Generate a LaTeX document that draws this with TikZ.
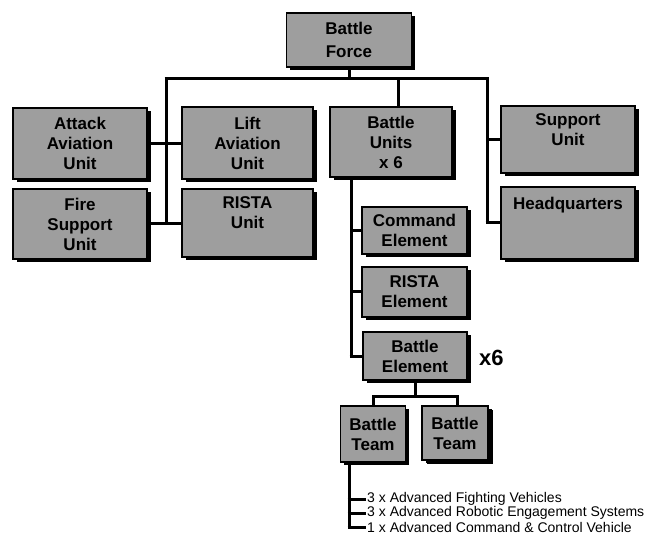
\documentclass[tikz,border=0pt]{standalone}
\usepackage{fontspec}
\setmainfont{Liberation Sans}
\usetikzlibrary{shadows}
\definecolor{boxgray}{gray}{0.62}
\tikzset{
  unitbox/.style={draw=black, line width=1.6pt, fill=boxgray, inner sep=0pt, align=center,
    font=\bfseries\fontsize{17}{20}\selectfont,
    drop shadow={shadow xshift=3.5pt, shadow yshift=-3pt, fill=black, opacity=1}},
  link/.style={line width=3pt},
  item/.style={anchor=west, inner sep=0pt, font=\fontsize{14}{16}\selectfont},
}
\begin{document}
\begin{tikzpicture}[x=1pt,y=-1pt]
\useasboundingbox[fill=white] (0,0) rectangle (650,534);
% boxes
\node[unitbox, minimum width=125pt, minimum height=54pt] (bf) at (349,40) {Battle\\[3pt]Force};
\node[unitbox, minimum width=134pt, minimum height=71pt] (attack) at (80,143.5) {Attack\\Aviation\\Unit};
\node[unitbox, minimum width=131pt, minimum height=72pt] (lift) at (247.5,143) {Lift\\Aviation\\Unit};
\node[unitbox, minimum width=122pt, minimum height=70pt] (bu) at (391,142) {Battle\\Units\\x 6};
\node[unitbox, minimum width=134pt, minimum height=67pt] (support) at (568,139.5) {Support\\Unit\\\phantom{U}};
\node[unitbox, minimum width=134pt, minimum height=70pt] (fire) at (80,224) {Fire\\Support\\Unit};
\node[unitbox, minimum width=131pt, minimum height=68pt] (rista) at (247.5,223) {RISTA\\Unit\\\phantom{U}};
\node[unitbox, minimum width=134pt, minimum height=72pt] (hq) at (568,223) {Headquarters\\\phantom{U}\\\phantom{U}};
\node[unitbox, minimum width=105pt, minimum height=47pt] (cmd) at (414.5,230.5) {Command\\Element};
\node[unitbox, minimum width=105pt, minimum height=50pt] (rel) at (414.5,292) {RISTA\\Element};
\node[unitbox, minimum width=104pt, minimum height=48pt] (bel) at (415,356) {Battle\\Element};
\node[font=\bfseries\fontsize{22}{24}\selectfont, anchor=west, inner sep=0pt] (x6) at (479,358) {x6};
\node[unitbox, minimum width=65pt, minimum height=56pt] (bt1) at (373,434) {Battle\\Team};
\node[unitbox, minimum width=66pt, minimum height=54pt,
  drop shadow={shadow xshift=5pt, shadow yshift=-4pt, fill=black, opacity=1}] (bt2) at (455,433) {Battle\\Team};
% items
\node[item] (it1) at (367,499) {3 x Advanced Fighting Vehicles};
\node[item] (it2) at (367,513) {3 x Advanced Robotic Engagement Systems};
\node[item] (it3) at (367,527) {1 x Advanced Command \& Control Vehicle};
% connectors
\coordinate (barL) at (166,79);
\coordinate (barR) at (487,79);
\coordinate (budrop) at (398,79);
\coordinate (ctrunk) at (351,177);
\coordinate (ttrunk) at (349,462);
\draw[link] (bf.south) -- (bf.south |- barL);
\draw[link] ([xshift=-1.5pt]barL) -- ([xshift=1.5pt]barR);
\draw[link] (barL) -- (barL |- fire.east);
\draw[link] (attack.east) -- (attack.east -| lift.west);
\draw[link] (fire.east) -- (fire.east -| rista.west);
\draw[link] (budrop) -- (budrop |- bu.north);
\draw[link] (barR) -- ([yshift=1.5pt]barR |- hq.west);
\draw[link] (barR |- support.west) -- (support.west);
\draw[link] ([xshift=-1.5pt]barR |- hq.west) -- (hq.west);
\draw[link] (ctrunk) -- ([yshift=1.5pt]ctrunk |- bel.west);
\draw[link] ([xshift=-1.5pt]ctrunk |- bel.west) -- (bel.west);
\draw[link] (ctrunk |- cmd.west) -- (cmd.west);
\draw[link] (ctrunk |- rel.west) -- (rel.west);
\draw[link] (bel.south) -- ++(0,16) coordinate (tbar);
\draw[link] (bt1.north -| 373,0) -- (373,0 |- tbar) -- (457,0 |- tbar) -- (bt2.north -| 457,0);
\draw[link] (ttrunk) -- ([yshift=1.5pt]ttrunk |- it3.west);
\draw[link] ([xshift=-1.5pt]ttrunk |- it1.west) -- ([xshift=-1.5pt]it1.west);
\draw[link] ([xshift=-1.5pt]ttrunk |- it2.west) -- ([xshift=-1.5pt]it2.west);
\draw[link] ([xshift=-1.5pt]ttrunk |- it3.west) -- ([xshift=-1.5pt]it3.west);
\end{tikzpicture}
\end{document}
